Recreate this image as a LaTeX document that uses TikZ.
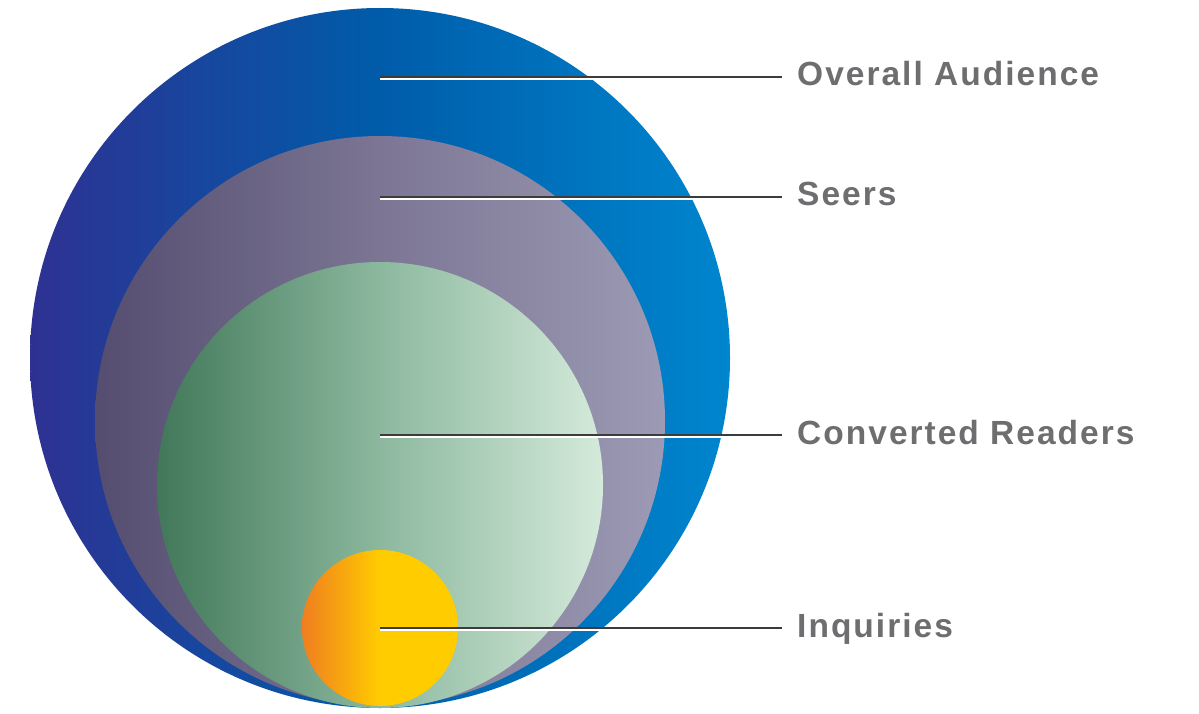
\documentclass[tikz,border=0pt]{standalone}
\usepackage{fontspec}
\setmainfont{Liberation Sans}
\usetikzlibrary{positioning}
\definecolor{audleft}{RGB}{46,49,146}
\definecolor{audmid}{RGB}{0,92,170}
\definecolor{audright}{RGB}{0,134,206}
\definecolor{seerleft}{RGB}{84,77,112}
\definecolor{seermid}{RGB}{124,118,148}
\definecolor{seerright}{RGB}{156,154,180}
\definecolor{convleft}{RGB}{66,120,90}
\definecolor{convmid}{RGB}{140,184,158}
\definecolor{convright}{RGB}{212,234,218}
\definecolor{inqleft}{RGB}{240,126,32}
\definecolor{inqright}{RGB}{255,204,0}
\definecolor{labelgray}{RGB}{110,110,112}
\definecolor{leadergray}{RGB}{60,60,60}

\begin{document}
\begin{tikzpicture}[
  x=1pt, y=-1pt,
  ring/.style={circle, draw=none, inner sep=0pt},
  leader/.style={draw=leadergray, line width=1.5pt,
    preaction={draw=white, line width=1.5pt, transform canvas={yshift=-2pt}}},
  lbl/.style={font=\fontsize{33.5}{34}\selectfont\bfseries\addfontfeature{LetterSpace=6},
    text=labelgray, inner sep=0pt, text height=22pt, text depth=4pt}
]
  \useasboundingbox (0,0) rectangle (1199,714);

  % Circles
  \node[ring, minimum size=700pt, left color=audleft, right color=audright, middle color=audmid] (audience) at (380,358) {};
  \node[ring, minimum size=570pt, left color=seerleft, right color=seerright, middle color=seermid] (seers) at (380,421) {};
  \node[ring, minimum size=446pt, left color=convleft, right color=convright, middle color=convmid] (readers) at (380,485) {};
  \node[ring, minimum size=156pt, left color=inqleft, right color=inqright, middle color=inqright] (inquiries) at (380,628) {};

  % Leader ends
  \coordinate (a-in) at (380,77);
  \coordinate (a-out) at (782,77);
  \coordinate (s-in) at (380,197);
  \coordinate (s-out) at (782,197);
  \coordinate (r-in) at (380,435);
  \coordinate (r-out) at (782,435);
  \coordinate (i-out) at (782,628);

  % Labels
  \node[lbl, right=15pt of a-out] (a-lbl) {Overall Audience};
  \node[lbl, right=15pt of s-out] (s-lbl) {Seers};
  \node[lbl, right=15pt of r-out] (r-lbl) {Converted Readers};
  \node[lbl, right=15pt of i-out] (i-lbl) {Inquiries};

  % Leaders
  \draw[leader] (a-in) -- (a-out);
  \draw[leader] (s-in) -- (s-out);
  \draw[leader] (r-in) -- (r-out);
  \draw[leader] (inquiries.center) -- (i-out);
\end{tikzpicture}
\end{document}
